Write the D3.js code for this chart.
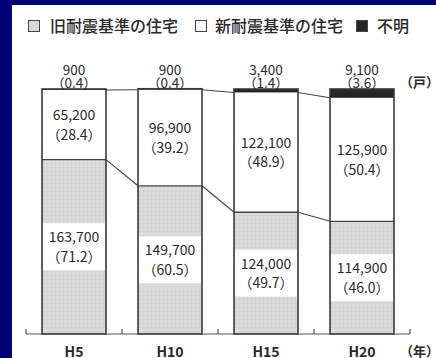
<!DOCTYPE html>
<html>
<head>
<meta charset="utf-8">
<script src="https://cdn.jsdelivr.net/npm/d3@7/dist/d3.min.js"></script>
<style>
  html, body { margin: 0; padding: 0; background: #000078; }
  svg { display: block; }
  text { font-family: "Noto Sans CJK JP", "Noto Sans", sans-serif; fill: #2a2a2a; }
</style>
</head>
<body>
<script>
// Housing stock by earthquake-resistance standard (units, share %)
const years = ["H5", "H10", "H15", "H20"];
const oldUnits = [163700, 149700, 124000, 114900];
const oldPct = [71.2, 60.5, 49.7, 46.0];
const newUnits = [65200, 96900, 122100, 125900];
const newPct = [28.4, 39.2, 48.9, 50.4];
const unknownUnits = [900, 900, 3400, 9100];
const unknownPct = [0.4, 0.4, 1.4, 3.6];
const legendLabels = ["旧耐震基準の住宅", "新耐震基準の住宅", "不明"];

const W = 436, H = 358;
const svg = d3.select("body").append("svg").attr("width", W).attr("height", H);

// white panel inside the navy frame
svg.append("rect").attr("x", 12).attr("y", 5).attr("width", W - 12).attr("height", H - 5).attr("fill", "#fff");

const defs = svg.append("defs");
const pat = defs.append("pattern").attr("id", "dots").attr("patternUnits", "userSpaceOnUse")
  .attr("width", 4).attr("height", 4);
pat.append("rect").attr("width", 4).attr("height", 4).attr("fill", "#d8d8d8");
pat.append("rect").attr("x", 1).attr("y", 1).attr("width", 1).attr("height", 1).attr("fill", "#e9e9e9");
pat.append("rect").attr("x", 3).attr("y", 3).attr("width", 1).attr("height", 1).attr("fill", "#cfcfcf");

const x = d3.scaleBand().domain(years).range([26, 410]).paddingInner(1 / 3).paddingOuter(1 / 6);
const y = d3.scaleLinear().domain([0, 100]).range([334, 89]);
const bw = x.bandwidth();
const fmt = d3.format(",");
const pctFmt = d3.format(".1f");

const rows = years.map((yr, i) => ({
  yr,
  old: [0, oldPct[i]],
  neu: [oldPct[i], oldPct[i] + newPct[i]],
  unk: [oldPct[i] + newPct[i], oldPct[i] + newPct[i] + unknownPct[i]],
  i
}));

// connector lines between adjacent bars
const conn = svg.append("g").attr("stroke", "#444").attr("stroke-width", 1.1);
for (let k = 0; k < rows.length - 1; k++) {
  const a = rows[k], b = rows[k + 1];
  const xa = x(a.yr) + bw, xb = x(b.yr);
  conn.append("line").attr("x1", xa).attr("x2", xb).attr("y1", y(a.old[1])).attr("y2", y(b.old[1]));
  conn.append("line").attr("x1", xa).attr("x2", xb).attr("y1", y(a.neu[1])).attr("y2", y(b.neu[1]));
}

const bars = svg.append("g");
rows.forEach(r => {
  const g = bars.append("g");
  const x0 = x(r.yr);
  g.append("rect").attr("x", x0).attr("width", bw)
    .attr("y", y(r.old[1])).attr("height", y(r.old[0]) - y(r.old[1])).attr("fill", "url(#dots)");
  g.append("rect").attr("x", x0).attr("width", bw)
    .attr("y", y(r.neu[1])).attr("height", y(r.neu[0]) - y(r.neu[1])).attr("fill", "#fff");
  g.append("rect").attr("x", x0).attr("width", bw)
    .attr("y", y(r.unk[1])).attr("height", y(r.unk[0]) - y(r.unk[1])).attr("fill", "#262626");
  // segment divider
  g.append("line").attr("x1", x0).attr("x2", x0 + bw).attr("y1", y(r.old[1])).attr("y2", y(r.old[1]))
    .attr("stroke", "#444").attr("stroke-width", 1.3);
  // white label plate inside the old-standard segment
  const oc = (y(r.old[0]) + y(r.old[1])) / 2;
  g.append("rect").attr("x", x0 + 1).attr("width", bw - 2).attr("y", oc - 23.5).attr("height", 47).attr("fill", "#fff");
  // bar outline
  g.append("rect").attr("x", x0).attr("width", bw)
    .attr("y", y(r.unk[1])).attr("height", y(0) - y(r.unk[1]))
    .attr("fill", "none").attr("stroke", "#3a3a3a").attr("stroke-width", 1.6);

  const cx = x0 + bw / 2;
  const i = r.i;
  const txt = (t, yy, size) => g.append("text").attr("x", cx).attr("y", yy)
    .attr("text-anchor", "middle").attr("font-size", size).text(t);
  txt(fmt(oldUnits[i]), oc - 4.5, 14);
  txt("（" + pctFmt(oldPct[i]) + "）", oc + 15, 14);
  const nc = (y(r.neu[0]) + y(r.neu[1])) / 2;
  txt(fmt(newUnits[i]), nc - 4.5, 14);
  txt("（" + pctFmt(newPct[i]) + "）", nc + 15, 14);
  txt(fmt(unknownUnits[i]), 75, 13.5);
  txt("（" + pctFmt(unknownPct[i]) + "）", 87.5, 13.5);
});

// baseline axis with ticks at band boundaries
const axis = svg.append("g").attr("stroke", "#555").attr("stroke-width", 1.2);
axis.append("line").attr("x1", 26).attr("x2", 410).attr("y1", y(0)).attr("y2", y(0));
const tickXs = d3.range(years.length + 1).map(k => 26 + k * x.step());
tickXs.forEach(tx => axis.append("line").attr("x1", tx).attr("x2", tx).attr("y1", y(0)).attr("y2", y(0) - 5));

years.forEach(yr => {
  svg.append("text").attr("x", x(yr) + bw / 2).attr("y", 356.5).attr("text-anchor", "middle")
    .attr("font-size", 14).attr("font-weight", 700).text(yr);
});
svg.append("text").attr("x", 400).attr("y", 356).attr("font-size", 13).attr("font-weight", 700).text("（年）");
svg.append("text").attr("x", 400).attr("y", 87).attr("font-size", 13).attr("font-weight", 700).text("（戸）");

// legend
const legend = svg.append("g");
const items = [
  { label: legendLabels[0], fill: "#d8d8d8", x: 28, tx: 50 },
  { label: legendLabels[1], fill: "#fff", x: 195, tx: 215 },
  { label: legendLabels[2], fill: "#262626", x: 356, tx: 377 }
];
items.forEach(it => {
  legend.append("rect").attr("x", it.x + 0.5).attr("y", 20.5).attr("width", 11).attr("height", 11)
    .attr("fill", it.fill).attr("stroke", "#444").attr("stroke-width", 1);
  legend.append("text").attr("x", it.tx).attr("y", 32).attr("font-size", 16).attr("font-weight", 500).text(it.label);
});
</script>
</body>
</html>
